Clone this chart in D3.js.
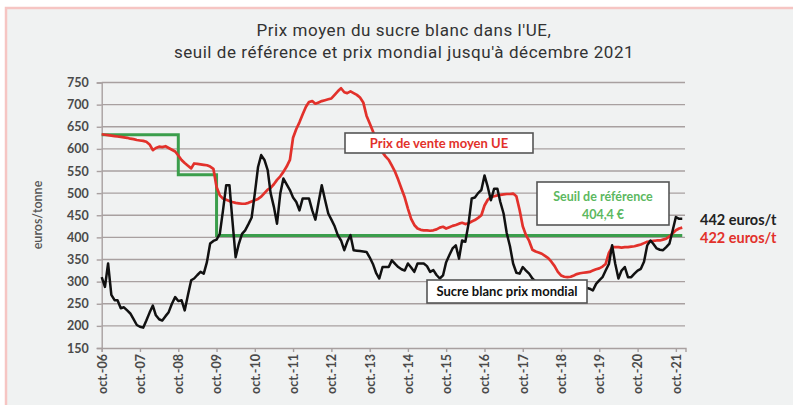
<!DOCTYPE html>
<html><head><meta charset="utf-8">
<script src="https://cdn.jsdelivr.net/npm/d3@7"></script>
<style>
html,body{margin:0;padding:0;background:#fff;}
svg{display:block;}
</style></head>
<body>
<svg id="chart" width="793" height="405"></svg>
<script>
// ---- DATA ----
const startMonth = "2006-10"; // monthly series start (Oct 2006) to Dec 2021
const euPrice = [
 633,632,631,630,629,628,627,626,625,623,622,620,
 619,618,616,610,597,602,605,604,606,602,598,594,
 585,575,568,562,556,567,566,565,564,563,560,555,
 514,495,488,485,482,480,478,477,476,476,478,481,
 484,487,492,500,508,512,520,530,538,548,560,575,
 625,645,660,678,695,706,708,702,705,708,710,712,
 714,722,730,737,728,726,730,726,722,716,705,675,
 658,640,620,605,592,583,575,562,548,530,510,490,
 465,442,428,420,417,416,416,415,416,418,422,424,
 420,423,426,428,431,433,430,432,436,439,444,450,
 472,485,491,493,495,496,497,498,498,499,493,462,
 425,405,392,372,368,366,363,358,353,345,335,322,
 314,311,310,311,314,317,319,320,321,322,325,328,
 330,334,340,365,378,378,378,377,378,378,379,380,
 382,384,387,390,391,392,393,393,395,397,402,409,
 416,420,422
];
const worldPrice = [
 310,288,341,270,258,258,240,242,235,228,215,202,
 198,196,212,230,246,224,215,212,222,231,250,265,
 256,258,235,270,303,307,315,322,318,344,386,392,
 395,408,460,518,518,439,355,385,408,416,430,445,
 499,559,586,575,552,500,469,431,499,533,520,507,
 490,480,461,488,488,488,461,440,480,518,485,454,
 440,425,405,393,371,390,405,371,370,369,368,367,
 355,340,320,307,333,333,333,348,340,333,328,325,
 341,332,322,341,341,341,335,322,326,315,307,314,
 344,360,375,382,352,393,390,430,488,490,500,507,
 540,514,484,510,510,480,454,410,380,341,320,318,
 333,325,318,307,300,298,295,292,290,288,290,292,
 290,288,285,282,285,288,290,288,286,284,280,295,
 303,310,325,340,382,341,307,325,333,310,310,318,
 325,329,345,382,393,385,375,372,371,378,386,416,
 446,442,442
];
const thresholdMonths = ["2006-10","2008-10","2009-10","2021-12"];
const thresholdValues = [631.9, 541.5, 404.4, 404.4];
const yTicks = [150,200,250,300,350,400,450,500,550,600,650,700,750];
const xTickYears = [2006,2007,2008,2009,2010,2011,2012,2013,2014,2015,2016,2017,2018,2019,2020,2021];
const titleLines = ["Prix moyen du sucre blanc dans l'UE,", "seuil de référence et prix mondial jusqu'à décembre 2021"];
const yTitle = "euros/tonne";
const labelEU = "Prix de vente moyen UE";
const labelThreshold = ["Seuil de référence", "404,4 €"];
const labelWorld = "Sucre blanc prix mondial";
const endLabelWorld = "442 euros/t";
const endLabelEU = "422 euros/t";

// ---- SETUP ----
const svg = d3.select("#chart");
const parseM = d3.timeParse("%Y-%m");
const t0 = parseM(startMonth);
const monthDate = i => d3.timeMonth.offset(t0, i);

const x = d3.scaleTime().domain([t0, parseM("2022-01")]).range([101.7, 685.5]);
const y = d3.scaleLinear().domain([150, 750]).range([348, 82.5]);

// background & frame
svg.append("rect").attr("x", 6).attr("y", 8).attr("width", 800).attr("height", 410)
  .attr("fill", "#f0f2f2").attr("stroke", "#f6c5c3").attr("stroke-width", 2.5);

// title
svg.append("g").selectAll("text").data(titleLines).join("text")
  .attr("x", 404).attr("y", (d, i) => 36 + i * 21.5)
  .attr("text-anchor", "middle")
  .attr("font-family", "Roboto, sans-serif").attr("font-size", 17).attr("letter-spacing", 0.55)
  .attr("fill", "#333").text(d => d);

const gridColor = "#a8a0a0";

// gridlines
svg.append("g").selectAll("line").data(yTicks.filter(v => v > 150)).join("line")
  .attr("x1", x.range()[0]).attr("x2", 685)
  .attr("y1", d => y(d)).attr("y2", d => y(d))
  .attr("stroke", gridColor).attr("stroke-width", 1.4);

// y axis
const yAxis = d3.axisLeft(y).tickValues(yTicks).tickSize(5).tickPadding(8).tickFormat(d3.format("d"));
const gy = svg.append("g").attr("transform", `translate(${x.range()[0]},0)`).call(yAxis);
gy.select(".domain").attr("stroke", gridColor).attr("stroke-width", 1.4);
gy.selectAll(".tick line").attr("stroke", gridColor).attr("stroke-width", 1.4);
gy.selectAll(".tick text").attr("font-family", "Lato, sans-serif").attr("font-weight", "bold")
  .attr("font-size", 12.5).attr("fill", "#4a4a4a");

// x axis
const xAxis = d3.axisBottom(x).tickValues(xTickYears.map(yr => new Date(yr, 9, 1)))
  .tickSize(4).tickFormat(d => "oct.-" + d3.timeFormat("%y")(d));
const gx = svg.append("g").attr("transform", `translate(0,${y(150)})`).call(xAxis);
gx.select(".domain").attr("stroke", gridColor).attr("stroke-width", 1.4);
gx.selectAll(".tick line").attr("stroke", gridColor).attr("stroke-width", 1.4);
gx.selectAll(".tick text")
  .attr("font-family", "Lato, sans-serif").attr("font-weight", "bold")
  .attr("font-size", 12.5).attr("fill", "#4a4a4a")
  .attr("text-anchor", "end").attr("dy", "0.35em")
  .attr("transform", "translate(0,6) rotate(-90)").attr("x", 0).attr("y", 0);

// y title
svg.append("text").attr("transform", "translate(42,215) rotate(-90)")
  .attr("text-anchor", "middle").attr("font-family", "Lato, sans-serif")
  .attr("font-weight", "600").attr("font-size", 12.5).attr("fill", "#555").text(yTitle);

// lines
const threshData = thresholdMonths.map((m, i) => ({d: parseM(m), v: thresholdValues[i]}));
svg.append("path").datum(threshData)
  .attr("d", d3.line().x(p => x(p.d)).y(p => y(p.v)).curve(d3.curveStepAfter))
  .attr("fill", "none").attr("stroke", "#3b9e4c").attr("stroke-width", 3);

const lineM = d3.line().x((v, i) => x(monthDate(i))).y(v => y(v));
svg.append("path").datum(euPrice).attr("d", lineM)
  .attr("fill", "none").attr("stroke", "#e2312b").attr("stroke-width", 2.7).attr("stroke-linejoin", "round");
svg.append("path").datum(worldPrice).attr("d", lineM)
  .attr("fill", "none").attr("stroke", "#111").attr("stroke-width", 2.5).attr("stroke-linejoin", "round");

// label boxes
function box(x0, y0, w, h) {
  svg.append("rect").attr("x", x0).attr("y", y0).attr("width", w).attr("height", h)
    .attr("fill", "#fff").attr("stroke", "#555").attr("stroke-width", 1.6);
}
const lblFont = "Lato, sans-serif";
box(345, 133, 188, 20);
svg.append("text").attr("x", 439).attr("y", 143).attr("dy", "0.36em").attr("text-anchor", "middle")
  .attr("font-family", lblFont).attr("font-weight", "bold").attr("font-size", 13)
  .attr("fill", "#e2312b").text(labelEU);

box(537, 182, 132, 43);
svg.append("g").selectAll("text").data(labelThreshold).join("text")
  .attr("x", 603).attr("y", (d, i) => 196 + i * 18).attr("dy", "0.36em").attr("text-anchor", "middle")
  .attr("font-family", lblFont).attr("font-weight", "bold").attr("font-size", 12.5)
  .attr("fill", "#5cb860").text(d => d);

box(427, 280, 160, 23);
svg.append("text").attr("x", 507).attr("y", 291.5).attr("dy", "0.36em").attr("text-anchor", "middle")
  .attr("font-family", lblFont).attr("font-weight", "bold").attr("font-size", 13)
  .attr("fill", "#111").text(labelWorld);

// end labels
svg.append("text").attr("x", 700).attr("y", y(worldPrice[worldPrice.length - 1]) + 1).attr("dy", "0.36em")
  .attr("font-family", lblFont).attr("font-weight", "bold").attr("font-size", 14.5)
  .attr("fill", "#222").text(endLabelWorld);
svg.append("text").attr("x", 700).attr("y", y(euPrice[euPrice.length - 1]) + 10).attr("dy", "0.36em")
  .attr("font-family", lblFont).attr("font-weight", "bold").attr("font-size", 14.5)
  .attr("fill", "#e2312b").text(endLabelEU);
</script>
</body></html>
